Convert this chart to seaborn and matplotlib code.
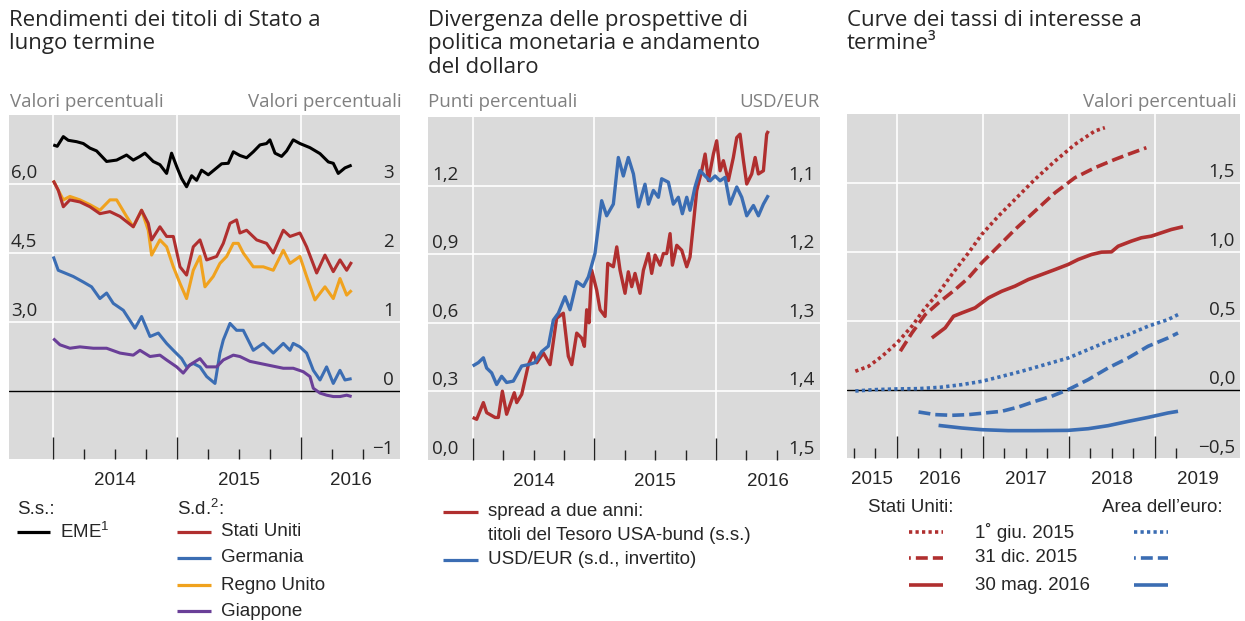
import matplotlib
matplotlib.use("Agg")
import matplotlib.pyplot as plt
import seaborn as sns
import pandas as pd
from matplotlib import transforms
from matplotlib.lines import Line2D

# ---------------- Panel 1: long-term government bond yields ----------------
eme_x = [2014.000, 2014.032, 2014.081, 2014.121, 2014.188, 2014.242, 2014.296, 2014.349,
         2014.430, 2014.511, 2014.591, 2014.645, 2014.699, 2014.739, 2014.806, 2014.860,
         2014.914, 2014.954, 2014.995, 2015.035, 2015.075, 2015.116, 2015.156, 2015.196,
         2015.250, 2015.304, 2015.358, 2015.411, 2015.452, 2015.505, 2015.559, 2015.613,
         2015.667, 2015.720, 2015.747, 2015.788, 2015.841, 2015.882, 2015.935, 2015.989,
         2016.070, 2016.151, 2016.218, 2016.258, 2016.298, 2016.352, 2016.406]
eme_y = [6.85, 6.82, 7.03, 6.95, 6.92, 6.88, 6.78, 6.72, 6.49, 6.52, 6.63, 6.52, 6.60, 6.67,
         6.49, 6.42, 6.23, 6.67, 6.38, 6.12, 5.94, 6.18, 6.08, 6.30, 6.20, 6.32, 6.44, 6.45,
         6.70, 6.62, 6.57, 6.70, 6.85, 6.88, 6.96, 6.67, 6.60, 6.72, 6.96, 6.88, 6.79, 6.66,
         6.48, 6.45, 6.23, 6.35, 6.41]

us_x = [2014.000, 2014.040, 2014.081, 2014.134, 2014.215, 2014.296, 2014.376, 2014.457,
        2014.538, 2014.645, 2014.712, 2014.766, 2014.793, 2014.860, 2014.914, 2014.968,
        2015.022, 2015.075, 2015.129, 2015.183, 2015.237, 2015.317, 2015.371, 2015.425,
        2015.478, 2015.505, 2015.559, 2015.640, 2015.720, 2015.774, 2015.855, 2015.909,
        2015.989, 2016.043, 2016.124, 2016.191, 2016.258, 2016.312, 2016.366, 2016.406]
us_y = [3.05, 2.91, 2.67, 2.77, 2.74, 2.67, 2.57, 2.60, 2.53, 2.38, 2.62, 2.43, 2.19, 2.38,
        2.24, 2.24, 1.80, 1.68, 2.09, 2.19, 1.90, 1.95, 2.14, 2.43, 2.48, 2.29, 2.33, 2.19,
        2.14, 2.00, 2.33, 2.24, 2.29, 2.09, 1.71, 1.97, 1.73, 1.90, 1.75, 1.87]

uk_x = [2014.000, 2014.081, 2014.134, 2014.215, 2014.296, 2014.376, 2014.457, 2014.511,
        2014.591, 2014.645, 2014.712, 2014.766, 2014.793, 2014.860, 2014.914, 2014.968,
        2015.022, 2015.075, 2015.129, 2015.183, 2015.223, 2015.290, 2015.344, 2015.398,
        2015.452, 2015.492, 2015.532, 2015.613, 2015.694, 2015.774, 2015.855, 2015.909,
        2015.989, 2016.043, 2016.110, 2016.191, 2016.258, 2016.312, 2016.366, 2016.406]
uk_y = [3.05, 2.77, 2.82, 2.77, 2.70, 2.62, 2.77, 2.77, 2.53, 2.38, 2.62, 2.33, 1.97, 2.19,
        2.09, 1.80, 1.56, 1.34, 1.75, 1.95, 1.51, 1.66, 1.85, 1.95, 2.14, 2.14, 2.00, 1.80,
        1.80, 1.75, 2.04, 1.85, 1.95, 1.66, 1.32, 1.51, 1.34, 1.63, 1.39, 1.46]

de_x = [2014.000, 2014.040, 2014.094, 2014.161, 2014.242, 2014.309, 2014.376, 2014.430,
        2014.484, 2014.565, 2014.659, 2014.712, 2014.780, 2014.847, 2014.914, 2014.968,
        2015.035, 2015.075, 2015.129, 2015.183, 2015.237, 2015.304, 2015.344, 2015.371,
        2015.425, 2015.478, 2015.532, 2015.613, 2015.694, 2015.774, 2015.855, 2015.909,
        2015.935, 2015.989, 2016.043, 2016.097, 2016.151, 2016.204, 2016.258, 2016.312,
        2016.352, 2016.406]
de_y = [1.95, 1.75, 1.71, 1.66, 1.58, 1.51, 1.34, 1.42, 1.27, 1.17, 0.91, 1.08, 0.79, 0.84,
        0.69, 0.59, 0.47, 0.35, 0.40, 0.35, 0.21, 0.11, 0.55, 0.74, 0.98, 0.88, 0.88, 0.59,
        0.69, 0.55, 0.69, 0.59, 0.69, 0.64, 0.55, 0.30, 0.16, 0.35, 0.11, 0.30, 0.16, 0.18]

jp_x = [2014.000, 2014.054, 2014.134, 2014.215, 2014.323, 2014.430, 2014.538, 2014.645,
        2014.699, 2014.780, 2014.860, 2014.914, 2014.995, 2015.048, 2015.102, 2015.183,
        2015.237, 2015.317, 2015.371, 2015.452, 2015.505, 2015.586, 2015.720, 2015.855,
        2015.935, 2016.016, 2016.070, 2016.097, 2016.151, 2016.204, 2016.258, 2016.312,
        2016.366, 2016.406]
jp_y = [0.76, 0.67, 0.62, 0.64, 0.62, 0.62, 0.55, 0.52, 0.59, 0.50, 0.52, 0.45, 0.35, 0.26,
        0.38, 0.47, 0.35, 0.35, 0.45, 0.52, 0.50, 0.43, 0.38, 0.33, 0.33, 0.28, 0.21, 0.04,
        -0.03, -0.06, -0.08, -0.08, -0.06, -0.08]

# ---------------- Panel 2: spread and USD/EUR ----------------
spread_x = [2014.000, 2014.033, 2014.088, 2014.115, 2014.184, 2014.211, 2014.244, 2014.279,
            2014.342, 2014.362, 2014.403, 2014.458, 2014.499, 2014.526, 2014.581, 2014.636,
            2014.690, 2014.745, 2014.786, 2014.814, 2014.855, 2014.896, 2014.918, 2014.937,
            2014.956, 2014.978, 2015.019, 2015.047, 2015.088, 2015.110, 2015.156, 2015.184,
            2015.211, 2015.252, 2015.279, 2015.307, 2015.334, 2015.375, 2015.403, 2015.444,
            2015.471, 2015.499, 2015.540, 2015.567, 2015.595, 2015.622, 2015.641, 2015.677,
            2015.718, 2015.759, 2015.786, 2015.814, 2015.841, 2015.882, 2015.910, 2015.937,
            2015.978, 2016.005, 2016.033, 2016.060, 2016.101, 2016.142, 2016.170, 2016.197,
            2016.225, 2016.252, 2016.293, 2016.321, 2016.348, 2016.389, 2016.416, 2016.430]
spread_y = [0.186, 0.178, 0.251, 0.207, 0.186, 0.186, 0.301, 0.200, 0.294, 0.251, 0.287, 0.417,
            0.468, 0.425, 0.468, 0.417, 0.620, 0.642, 0.454, 0.417, 0.555, 0.533, 0.497, 0.657,
            0.600, 0.830, 0.743, 0.657, 0.628, 0.860, 0.845, 0.932, 0.830, 0.729, 0.823, 0.758,
            0.816, 0.729, 0.830, 0.903, 0.816, 0.896, 0.852, 0.903, 0.903, 0.990, 0.852, 0.939,
            0.917, 0.845, 0.888, 1.033, 1.178, 1.265, 1.338, 1.222, 1.338, 1.396, 1.265, 1.309,
            1.222, 1.323, 1.410, 1.425, 1.309, 1.207, 1.251, 1.323, 1.251, 1.265, 1.425, 1.439]

fx_x = [2014.000, 2014.047, 2014.088, 2014.115, 2014.156, 2014.197, 2014.238, 2014.279,
        2014.334, 2014.403, 2014.458, 2014.512, 2014.567, 2014.622, 2014.663, 2014.704,
        2014.759, 2014.800, 2014.855, 2014.910, 2014.951, 2015.005, 2015.060, 2015.101,
        2015.156, 2015.197, 2015.238, 2015.279, 2015.321, 2015.362, 2015.416, 2015.444,
        2015.485, 2015.526, 2015.553, 2015.608, 2015.649, 2015.690, 2015.723, 2015.759,
        2015.786, 2015.827, 2015.868, 2015.910, 2015.951, 2015.992, 2016.033, 2016.074,
        2016.115, 2016.170, 2016.211, 2016.252, 2016.307, 2016.348, 2016.389, 2016.430]
fx_y = [1.363, 1.358, 1.351, 1.366, 1.373, 1.390, 1.378, 1.387, 1.385, 1.363, 1.361, 1.358,
        1.342, 1.334, 1.296, 1.286, 1.262, 1.281, 1.240, 1.247, 1.233, 1.199, 1.122, 1.144,
        1.127, 1.059, 1.086, 1.059, 1.083, 1.131, 1.098, 1.127, 1.107, 1.117, 1.090, 1.095,
        1.127, 1.117, 1.141, 1.117, 1.136, 1.102, 1.078, 1.086, 1.093, 1.086, 1.093, 1.088,
        1.127, 1.102, 1.117, 1.144, 1.129, 1.144, 1.127, 1.114]

# ---------------- Panel 3: forward curves ----------------
us_jun15_x = [2015.516, 2015.671, 2015.826, 2016.000, 2016.174, 2016.329, 2016.484, 2016.638,
              2016.832, 2016.986, 2017.180, 2017.373, 2017.605, 2017.838, 2018.070, 2018.302,
              2018.418]
us_jun15_y = [0.138, 0.174, 0.246, 0.343, 0.464, 0.597, 0.705, 0.838, 0.995, 1.128, 1.261,
              1.382, 1.527, 1.659, 1.780, 1.877, 1.901]
us_dec15_x = [2016.039, 2016.174, 2016.329, 2016.484, 2016.677, 2016.832, 2016.986, 2017.180,
              2017.373, 2017.605, 2017.838, 2018.070, 2018.302, 2018.534, 2018.689, 2018.901]
us_dec15_y = [0.283, 0.415, 0.548, 0.633, 0.729, 0.814, 0.923, 1.043, 1.164, 1.297, 1.430,
              1.539, 1.611, 1.671, 1.708, 1.756]
us_may16_x = [2016.406, 2016.561, 2016.658, 2016.754, 2016.909, 2017.064, 2017.219, 2017.373,
              2017.528, 2017.683, 2017.838, 2017.992, 2018.108, 2018.263, 2018.379, 2018.495,
              2018.573, 2018.727, 2018.843, 2018.959, 2019.075, 2019.191, 2019.327]
us_may16_y = [0.379, 0.452, 0.536, 0.560, 0.597, 0.669, 0.717, 0.754, 0.802, 0.838, 0.874,
              0.911, 0.947, 0.983, 1.000, 1.002, 1.043, 1.080, 1.104, 1.116, 1.140, 1.164, 1.184]
ea_jun15_x = [2015.516, 2015.749, 2016.000, 2016.251, 2016.503, 2016.754, 2016.986, 2017.219,
              2017.451, 2017.683, 2017.992, 2018.224, 2018.456, 2018.689, 2018.921, 2019.153,
              2019.269]
ea_jun15_y = [-0.005, 0.005, 0.010, 0.012, 0.022, 0.041, 0.065, 0.101, 0.138, 0.179, 0.234,
              0.295, 0.355, 0.403, 0.464, 0.512, 0.548]
ea_dec15_x = [2016.251, 2016.445, 2016.638, 2016.832, 2017.025, 2017.219, 2017.412, 2017.605,
              2017.799, 2017.992, 2018.224, 2018.456, 2018.689, 2018.921, 2019.153, 2019.269]
ea_dec15_y = [-0.157, -0.176, -0.181, -0.176, -0.164, -0.152, -0.121, -0.080, -0.043, 0.005,
              0.077, 0.162, 0.234, 0.319, 0.379, 0.415]
ea_may16_x = [2016.484, 2016.754, 2016.986, 2017.296, 2017.605, 2017.992, 2018.224, 2018.456,
              2018.689, 2018.921, 2019.153, 2019.269]
ea_may16_y = [-0.254, -0.273, -0.285, -0.292, -0.292, -0.290, -0.278, -0.256, -0.225, -0.196,
              -0.164, -0.152]

# ---------------- text ----------------
titles = ["Rendimenti dei titoli di Stato a\nlungo termine",
          "Divergenza delle prospettive di\npolitica monetaria e andamento\ndel dollaro",
          "Curve dei tassi di interesse a\ntermine³"]
p1_left_ticks, p1_left_labels = [3.0, 4.5, 6.0], ["3,0", "4,5", "6,0"]
p1_right_ticks, p1_right_labels = [-1, 0, 1, 2, 3], ["−1", "0", "1", "2", "3"]
p2_left_ticks, p2_left_labels = [0.0, 0.3, 0.6, 0.9, 1.2], ["0,0", "0,3", "0,6", "0,9", "1,2"]
p2_right_ticks, p2_right_labels = [1.5, 1.4, 1.3, 1.2, 1.1], ["1,5", "1,4", "1,3", "1,2", "1,1"]
p3_right_ticks, p3_right_labels = [-0.5, 0.0, 0.5, 1.0, 1.5], ["−0,5", "0,0", "0,5", "1,0", "1,5"]

# ---------------- style ----------------
sns.set_style("white")
plt.rcParams['font.family'] = ['Open Sans', 'DejaVu Sans']
plt.rcParams['mathtext.fontset'] = 'custom'
plt.rcParams['mathtext.rm'] = 'Liberation Sans'
plt.rcParams['mathtext.it'] = 'Liberation Sans'
plt.rcParams['mathtext.default'] = 'regular'

RED = "#b02f2f"
BLUE = "#3b6db3"
ORANGE = "#f0a21e"
PURPLE = "#6a3f98"
BG = "#dadada"
UNIT = "#808080"
LEG_FONT = ['Liberation Sans', 'DejaVu Sans']

W, H = 1245, 621
fig = plt.figure(figsize=(W / 100, H / 100), dpi=100)


def px_axes(l, t, r, b):
    return fig.add_axes([l / W, 1 - b / H, (r - l) / W, (b - t) / H])


def setup(ax, xlim, ylim, hgrid, xmajor, xminor, zero=False):
    ax.set_facecolor(BG)
    ax.set_xlim(xlim)
    ax.set_ylim(ylim)
    for s in ax.spines.values():
        s.set_visible(False)
    ax.set_xticks(xmajor)
    ax.set_xticks(xminor, minor=True)
    ax.set_xticklabels([])
    ax.set_xticklabels([], minor=True)
    ax.set_yticks([])
    ax.tick_params(axis='x', which='major', direction='in', length=16, width=1.0,
                   color='#222222', bottom=True, top=False)
    ax.tick_params(axis='x', which='minor', direction='in', length=7, width=1.0,
                   color='#222222', bottom=True, top=False)
    for xv in xmajor:
        ax.axvline(xv, color='white', lw=1.2, zorder=0.5)
    for yv in hgrid:
        ax.axhline(yv, color='white', lw=1.2, zorder=0.5)
    if zero:
        ax.axhline(0, color='black', lw=1.0, zorder=1)


def ylabels(ax, vals, labs, side, inset):
    base = transforms.blended_transform_factory(ax.transAxes, ax.transData)
    if side == 'left':
        tr = transforms.offset_copy(base, fig=fig, x=inset, y=6, units='dots')
        for v, l in zip(vals, labs):
            ax.text(0, v, l, transform=tr, ha='left', va='baseline', fontsize=13.5, clip_on=False)
    else:
        tr = transforms.offset_copy(base, fig=fig, x=-inset, y=6, units='dots')
        for v, l in zip(vals, labs):
            ax.text(1, v, l, transform=tr, ha='right', va='baseline', fontsize=13.5, clip_on=False)


def year_labels(ax, years, xlim):
    tr = transforms.blended_transform_factory(ax.transData, ax.transAxes)
    for y in years:
        a, b = max(y, xlim[0]), min(y + 1, xlim[1])
        ax.text((a + b) / 2, -0.062, str(y), transform=tr, ha='center', va='center',
                fontsize=13.5, family=LEG_FONT)


def line(ax, x, y, color, lw, ls='-'):
    df = pd.DataFrame({'x': x, 'y': y})
    sns.lineplot(data=df, x='x', y='y', ax=ax, color=color, lw=lw, linestyle=ls,
                 solid_capstyle='butt', dash_capstyle='butt')
    ax.set_xlabel('')
    ax.set_ylabel('')


def ftext(x, y, s, **kw):
    kw.setdefault('fontsize', 13.5)
    kw.setdefault('family', LEG_FONT)
    kw.setdefault('va', 'center')
    fig.text(x / W, 1 - y / H, s, **kw)


def fline(x0, x1, y, color, ls='-', lw=2.3):
    fig.add_artist(Line2D([x0 / W, x1 / W], [1 - y / H, 1 - y / H], color=color, lw=lw,
                          linestyle=ls, solid_capstyle='butt', dash_capstyle='butt'))


quarters = lambda a, b: [a + 0.25 * i for i in range(int(round((b - a) / 0.25)) + 1)]

# ---------------- Panel 1 ----------------
xl1 = (2013.643, 2016.796)
ax1 = px_axes(9, 115, 400, 459)
setup(ax1, xl1, (-0.985, 4.0), [1, 2, 3], [2014, 2015, 2016],
      [q for q in quarters(2014, 2016.5) if q % 1], zero=True)
ax1b = ax1.twinx()
for s in ax1b.spines.values():
    s.set_visible(False)
line(ax1, de_x, de_y, BLUE, 2.2)
line(ax1, jp_x, jp_y, PURPLE, 2.2)
line(ax1, uk_x, uk_y, ORANGE, 2.2)
line(ax1, us_x, us_y, RED, 2.2)
line(ax1b, eme_x, eme_y, 'black', 2.2)
ax1.set_ylim(-0.985, 4.0)
ax1b.set_ylim(1.5 * -0.985 + 1.5, 1.5 * 4.0 + 1.5)
ax1.set_xlim(xl1)
ax1b.set_yticks([])
ylabels(ax1b, p1_left_ticks, p1_left_labels, 'left', 2)
ylabels(ax1, p1_right_ticks, p1_right_labels, 'right', 6)
year_labels(ax1, [2014, 2015, 2016], xl1)

# ---------------- Panel 2 ----------------
xl2 = (2013.633, 2016.854)
ax2 = px_axes(428, 117, 820, 460)
setup(ax2, xl2, (0, 1.5), [0.3, 0.6, 0.9, 1.2], [2014, 2015, 2016],
      [q for q in quarters(2014, 2016.5) if q % 1])
ax2b = ax2.twinx()
for s in ax2b.spines.values():
    s.set_visible(False)
line(ax2, spread_x, spread_y, RED, 2.4)
line(ax2b, fx_x, fx_y, BLUE, 2.4)
ax2.set_ylim(0, 1.5)
ax2b.set_ylim(1.5, 1.0)
ax2.set_xlim(xl2)
ax2b.set_yticks([])
ylabels(ax2, p2_left_ticks, p2_left_labels, 'left', 4)
ylabels(ax2b, p2_right_ticks, p2_right_labels, 'right', 5)
year_labels(ax2, [2014, 2015, 2016], xl2)

# ---------------- Panel 3 ----------------
xl3 = (2015.419, 2019.99)
ax3 = px_axes(847, 114, 1240, 458)
setup(ax3, xl3, (-0.49, 2.0), [0.5, 1.0, 1.5], [2016, 2017, 2018, 2019],
      [q for q in quarters(2015.5, 2019.25) if q % 1], zero=True)
DOT = (0, (0.9, 0.9))
DASH = (0, (3.3, 1.4))
line(ax3, us_jun15_x, us_jun15_y, RED, 2.6, DOT)
line(ax3, us_dec15_x, us_dec15_y, RED, 2.6, DASH)
line(ax3, us_may16_x, us_may16_y, RED, 2.6)
line(ax3, ea_jun15_x, ea_jun15_y, BLUE, 2.6, DOT)
line(ax3, ea_dec15_x, ea_dec15_y, BLUE, 2.6, DASH)
line(ax3, ea_may16_x, ea_may16_y, BLUE, 2.6)
ax3.set_ylim(-0.49, 2.0)
ax3.set_xlim(xl3)
ylabels(ax3, p3_right_ticks, p3_right_labels, 'right', 5)
year_labels(ax3, [2015, 2016, 2017, 2018, 2019], xl3)

# ---------------- titles & unit labels ----------------
for x0, t in zip([9, 428, 847], titles):
    fig.text(x0 / W, 1 - 10 / H, t, ha='left', va='top', fontsize=16, linespacing=1.15)
ftext(10, 102, "Valori percentuali", family=['Open Sans'], fontsize=13.5, color=UNIT)
ftext(402, 102, "Valori percentuali", family=['Open Sans'], fontsize=13.5, color=UNIT, ha='right')
ftext(428, 102, "Punti percentuali", family=['Open Sans'], fontsize=13.5, color=UNIT)
ftext(820, 102, "USD/EUR", family=['Open Sans'], fontsize=13.5, color=UNIT, ha='right')
ftext(1237, 102, "Valori percentuali", family=['Open Sans'], fontsize=13.5, color=UNIT, ha='right')

# ---------------- legends ----------------
ftext(17, 509, "S.s.:")
fline(17, 50, 532, 'black')
ftext(60, 532, "EME$^{1}$")
ftext(177, 509, "S.d.$^{2}$:")
for yy, c, lab in [(532, RED, "Stati Uniti"), (558, BLUE, "Germania"),
                   (585, ORANGE, "Regno Unito"), (611, PURPLE, "Giappone")]:
    fline(177, 211, yy, c)
    ftext(221, yy, lab)

fline(443, 478, 512, RED)
ftext(488, 512, "spread a due anni:")
ftext(488, 535, "titoli del Tesoro USA-bund (s.s.)")
fline(443, 478, 560, BLUE)
ftext(488, 560, "USD/EUR (s.d., invertito)")

ftext(868, 508, "Stati Uniti:")
ftext(1102, 508, "Area dell’euro:")
LDASH = (2.8, (3.3, 1.4))
for yy, ls, lab in [(532, DOT, "1˚ giu. 2015"), (558, LDASH, "31 dic. 2015"),
                    (585, '-', "30 mag. 2016")]:
    fline(909, 943, yy, RED, ls, lw=2.6)
    fline(1134, 1168, yy, BLUE, ls, lw=2.6)
    ftext(975, yy, lab)

fig.savefig("out.png", dpi=100)
